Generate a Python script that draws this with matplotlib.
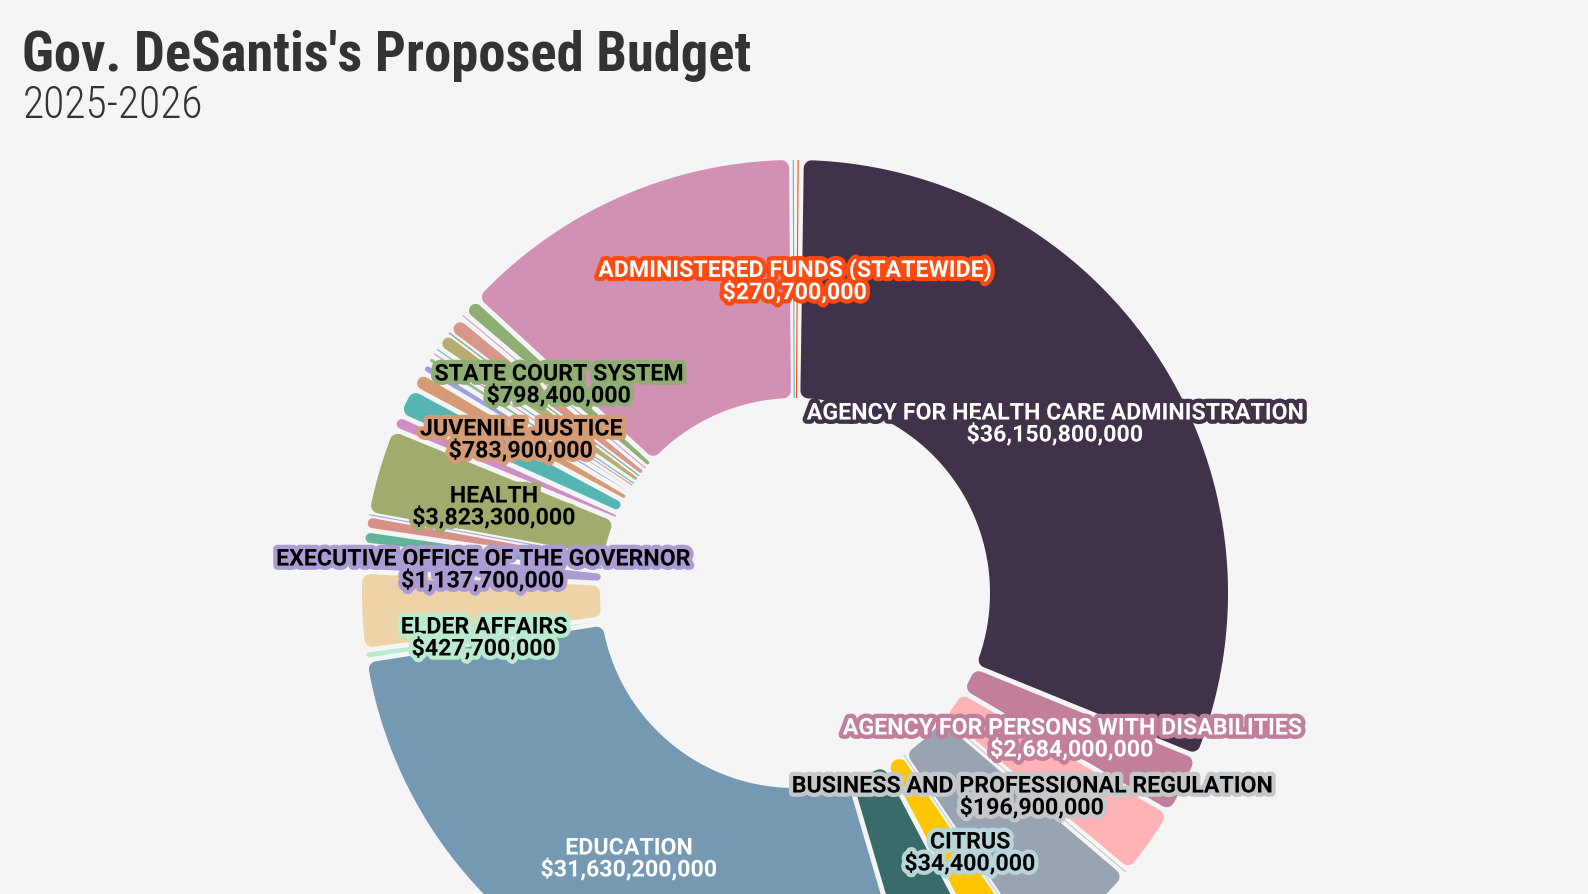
import numpy as np
import matplotlib
matplotlib.use("Agg")
import matplotlib.pyplot as plt
import matplotlib.patheffects as pe
from matplotlib import font_manager
from matplotlib.patches import Polygon

# agencies in alphabetical order, clockwise from 12 o'clock
agencies = [
    "Administered Funds (Statewide)",
    "Agency for Health Care Administration",
    "Agency for Persons with Disabilities",
    "Agriculture and Consumer Services",
    "Business and Professional Regulation",
    "Children and Families",
    "Citrus",
    "Commerce",
    "Corrections",
    "Education",
    "Elder Affairs",
    "Environmental Protection",
    "Executive Office of the Governor",
    "Financial Services",
    "Fish and Wildlife Conservation Commission",
    "Florida Gaming Control Commission",
    "Health",
    "Highway Safety and Motor Vehicles",
    "Justice Administration",
    "Juvenile Justice",
    "Law Enforcement",
    "Legal Affairs",
    "Lottery",
    "Management Services",
    "Military Affairs",
    "Offender Review",
    "Public Service Commission",
    "Revenue",
    "State",
    "State Court System",
    "Transportation",
    "Veterans' Affairs",
]
amounts = [
    270_700_000, 36_150_800_000, 2_684_000_000, 3_050_000_000, 196_900_000,
    5_050_000_000, 34_400_000, 2_000_000_000, 3_700_000_000, 31_630_200_000,
    427_700_000, 3_400_000_000, 1_137_700_000, 650_000_000, 650_000_000,
    30_000_000, 3_823_300_000, 650_000_000, 1_300_000_000, 783_900_000,
    450_000_000, 360_000_000, 240_000_000, 220_000_000, 750_000_000,
    15_000_000, 30_000_000, 800_000_000, 250_000_000, 798_400_000,
    15_200_000_000, 150_000_000,
]
colors = [
    '#fe4a11', '#3f3249', '#c17f9b', '#ffb3b6', '#c5c8cb',
    '#9aa3b1', '#b8d5d9', '#fdc600', '#396b6b', '#7599b3',
    '#b9ebcf', '#eed3a9', '#ad9bd4', '#62b497', '#d8908a',
    '#a8a8d8', '#a0ab6e', '#d08fc4', '#55b5b2', '#d49b74',
    '#9e9fe0', '#90c08c', '#e890a8', '#5fc0c0', '#b6ad72',
    '#a58fd6', '#8fc08f', '#d9968a', '#cfa2c8', '#8fae74',
    '#d291b3', '#5fb9b6',
]

labeled = [
    "Administered Funds (Statewide)",
    "Agency for Health Care Administration",
    "Agency for Persons with Disabilities",
    "Business and Professional Regulation",
    "Citrus",
    "Education",
    "Elder Affairs",
    "Executive Office of the Governor",
    "Health",
    "Juvenile Justice",
    "State Court System",
]
label_xy = [(795, 281), (1055, 424), (1072, 739), (1032, 797), (970, 853),
            (629, 859), (484, 638), (483, 570), (494, 507), (521, 440), (559, 385)]
label_ink = ['white', 'white', 'white', 'black', 'black',
             'white', 'black', 'black', 'black', 'black', 'black']

W, H = 1588, 894
BG = '#f5f5f5'
CX, CY = 795, H - 593
R_OUT, R_IN = 433, 195
PAD, CORNER = 5.0, 8.0

names = {f.name for f in font_manager.fontManager.ttflist}
cond = next((n for n in ['Roboto Condensed', 'Liberation Sans Narrow'] if n in names), 'Roboto')


def pol(r, a):
    return np.array([r * np.cos(a), r * np.sin(a)])


def line_pt(a, side, rho, d):
    return rho * np.array([np.cos(a), np.sin(a)]) + side * d * np.array([-np.sin(a), np.cos(a)])


def corner(cc, p_from, p_to, n=10):
    rad = np.hypot(*(p_from - cc))
    t0 = np.arctan2(*(p_from - cc)[::-1])
    t1 = np.arctan2(*(p_to - cc)[::-1])
    dt = (t1 - t0 + np.pi) % (2 * np.pi) - np.pi
    return [cc + pol(rad, t0 + dt * k / n) for k in range(n + 1)]


def arc(r, a_from, a_to):
    n = max(2, int(abs(a_to - a_from) * r / 3))
    return [pol(r, a) for a in np.linspace(a_from, a_to, n)]


def rounded_slice(a0, a1):
    h = (a1 - a0) / 2
    m = a0 + h
    s = np.sin(min(h, np.pi / 2))
    d = PAD / 2
    if R_OUT * s - d < 0.8:
        return None
    rc = min(CORNER, (R_OUT - R_IN) / 2)
    rco = min(rc, (R_OUT * s - d) / (1 + s))
    pts = []
    rho = np.sqrt((R_OUT - rco) ** 2 - (d + rco) ** 2)
    phi0 = a0 + np.arcsin((d + rco) / (R_OUT - rco))
    phi1 = a1 - np.arcsin((d + rco) / (R_OUT - rco))
    pts += corner(pol(R_OUT - rco, phi0), line_pt(a0, 1, rho, d), pol(R_OUT, phi0))
    pts += arc(R_OUT, phi0, phi1)
    pts += corner(pol(R_OUT - rco, phi1), pol(R_OUT, phi1), line_pt(a1, -1, rho, d))
    if R_IN * s - d > 0.3:
        rci = min(rc, (R_IN * s - d) / (1 - s))
        rho = np.sqrt((R_IN + rci) ** 2 - (d + rci) ** 2)
        phi1 = a1 - np.arcsin((d + rci) / (R_IN + rci))
        phi0 = a0 + np.arcsin((d + rci) / (R_IN + rci))
        pts += corner(pol(R_IN + rci, phi1), line_pt(a1, -1, rho, d), pol(R_IN, phi1))
        pts += arc(R_IN, phi1, phi0)
        pts += corner(pol(R_IN + rci, phi0), pol(R_IN, phi0), line_pt(a0, 1, rho, d))
    else:
        pts.append(pol(R_IN, m))
    return np.array(pts)


fig = plt.figure(figsize=(W / 100, H / 100), dpi=100, facecolor=BG)
ax = fig.add_axes([0, 0, 1, 1])
ax.set_facecolor(BG)

wedges, _ = ax.pie(amounts, colors=colors, startangle=90, counterclock=False,
                   center=(CX, CY), radius=R_OUT,
                   wedgeprops=dict(width=R_OUT - R_IN))
for w, c in zip(wedges, colors):
    w.set_visible(False)
    a0, a1 = np.radians(w.theta1), np.radians(w.theta2)
    pts = rounded_slice(a0, a1)
    if pts is None:
        m = (a0 + a1) / 2
        ax.plot([CX + R_IN * np.cos(m), CX + R_OUT * np.cos(m)],
                [CY + R_IN * np.sin(m), CY + R_OUT * np.sin(m)],
                color=c, lw=0.8, solid_capstyle='butt', zorder=2)
    else:
        ax.add_patch(Polygon(pts + np.array([CX, CY]), closed=True,
                             facecolor=c, edgecolor='none', zorder=2))

ax.set_xlim(0, W)
ax.set_ylim(0, H)
ax.set_aspect('auto')
ax.axis('off')

label_texts = []
for name, (x, y), ink in zip(labeled, label_xy, label_ink):
    i = agencies.index(name)
    t = ax.text(x, H - y, f"{name.upper()}\n${amounts[i]:,.0f}",
                ha='center', va='center', ma='center', fontsize=15,
                fontweight='bold', family='Roboto', color=ink,
                linespacing=0.93, zorder=5,
                path_effects=[pe.withStroke(linewidth=6.2, foreground=colors[i],
                                            joinstyle='round')])
    label_texts.append(t)

title = fig.text(22.3 / W, 1 - 71 / H, "Gov. DeSantis's Proposed Budget",
                 ha='left', va='baseline', fontsize=36, fontweight='bold',
                 family=cond, color='#333333')
sub = fig.text(22.3 / W, 1 - 118.5 / H, "2025-2026", ha='left', va='baseline',
               fontsize=24, fontweight='light', family=cond, color='#333333')

# scale the fonts so text widths match the original
fig.canvas.draw()
r = fig.canvas.get_renderer()
for t, target in [(title, 730), (sub, 181)]:
    t.set_fontsize(t.get_fontsize() * target / t.get_window_extent(r).width)
ahca = label_texts[1]
k = 498 / ahca.get_window_extent(r).width
for t in label_texts:
    t.set_fontsize(t.get_fontsize() * k)

fig.savefig('out.png', dpi=100, facecolor=BG)
